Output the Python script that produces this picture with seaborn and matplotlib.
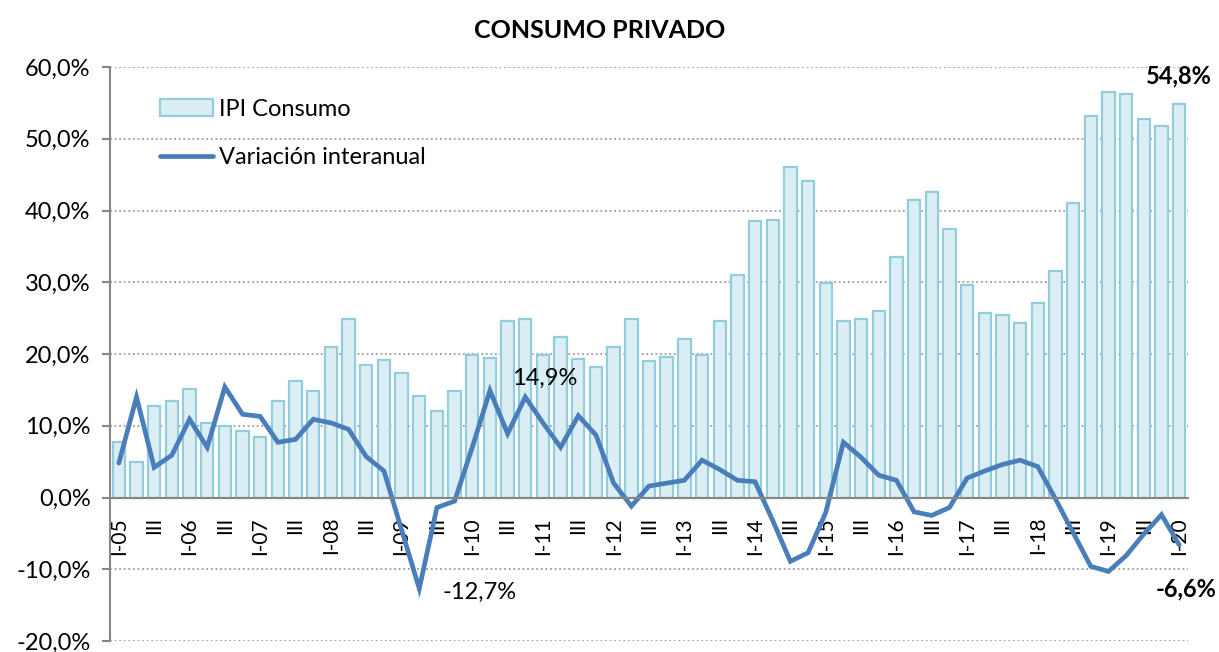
import matplotlib
matplotlib.use("Agg")
import matplotlib.pyplot as plt
import seaborn as sns
import pandas as pd
import numpy as np
from matplotlib.patches import Patch
from matplotlib.lines import Line2D
from matplotlib.ticker import FuncFormatter

sns.set_theme(style="white")
plt.rcParams['font.family'] = ['Lato', 'DejaVu Sans']

# ---- data ----
years = list(range(5, 21))
ipi_consumo = [7.8, 5.0, 12.8, 13.4, 15.1, 10.4, 10.0, 9.2, 8.4, 13.4, 16.2, 14.8,
               21.0, 24.9, 18.5, 19.1, 17.3, 14.2, 12.0, 14.8, 19.8, 19.5, 24.6, 24.9,
               19.8, 22.4, 19.3, 18.2, 21.0, 24.9, 19.0, 19.6, 22.1, 19.9, 24.6, 31.0,
               38.5, 38.7, 46.0, 44.1, 29.9, 24.6, 24.9, 26.0, 33.5, 41.5, 42.6, 37.4,
               29.6, 25.7, 25.4, 24.3, 27.1, 31.5, 41.0, 53.2, 56.5, 56.3, 52.7, 51.8,
               54.8]
variacion = [4.8, 14.0, 4.2, 5.9, 10.9, 7.0, 15.4, 11.6, 11.3, 7.7, 8.1, 10.9,
             10.4, 9.5, 5.7, 3.7, -4.5, -12.7, -1.4, -0.5, 7.0, 14.9, 8.9, 14.0,
             10.4, 7.0, 11.4, 8.7, 2.0, -1.2, 1.6, 2.0, 2.4, 5.2, 3.9, 2.4,
             2.2, -3.2, -8.9, -7.7, -2.1, 7.7, 5.6, 3.1, 2.4, -2.0, -2.5, -1.4,
             2.7, 3.7, 4.6, 5.2, 4.3, -0.2, -4.9, -9.6, -10.3, -8.1, -5.1, -2.4,
             -6.6]
quarters = []
for y in years:
    for q in ["I", "II", "III", "IV"]:
        quarters.append(f"{q}-{y:02d}")
quarters = quarters[:len(ipi_consumo)]
tick_labels = [(q if q.startswith("I-") else "III") for q in quarters]

df = pd.DataFrame({"idx": np.arange(len(ipi_consumo)), "quarter": quarters,
                   "ipi": ipi_consumo, "var": variacion})

BAR_FACE = "#DAEEF3"
BAR_EDGE = "#93CDDD"
LINE_C = "#4A7EBB"
GRID_C = "#8C8C8C"
FS_X = 15
FS = 17

fig = plt.figure(figsize=(12.19, 6.52), dpi=100)
ax = fig.add_axes([110/1219, 11/652, (1188-110)/1219, (641-67)/652])

sns.barplot(data=df, x="idx", y="ipi", order=list(df["idx"]), color=BAR_FACE,
            edgecolor=BAR_EDGE, linewidth=1.6, width=0.7, saturation=1, ax=ax)
sns.lineplot(data=df, x="idx", y="var", color=LINE_C, linewidth=3.4, ax=ax,
             solid_joinstyle="miter")

ax.set_xlim(-0.5, len(ipi_consumo) - 0.5)
ax.set_ylim(-20, 60)
ax.set_yticks(np.arange(-20, 61, 10))
ax.yaxis.set_major_formatter(FuncFormatter(lambda v, p: f"{v:.1f}%".replace(".", ",")))
ax.set_xlabel("")
ax.set_ylabel("")

for v in np.arange(-20, 61, 10):
    if v != 0:
        ax.axhline(v, color=GRID_C, linestyle=(0, (1.2, 1.8)), linewidth=1.1, zorder=0)

# spines
for s in ["top", "right"]:
    ax.spines[s].set_visible(False)
ax.spines["left"].set_color("#868686")
ax.spines["left"].set_linewidth(1.5)
ax.spines["bottom"].set_position(("data", 0))
ax.spines["bottom"].set_color("#868686")
ax.spines["bottom"].set_linewidth(1.5)
ax.spines["bottom"].set_zorder(5)

ax.set_xticks(df["idx"][::2])
ax.set_xticklabels(tick_labels[::2], rotation=90, fontsize=FS_X, color="black")
ax.set_xticks(np.arange(-0.5, len(ipi_consumo), 1.0), minor=True)
ax.tick_params(axis="x", which="major", length=0, pad=14)
ax.tick_params(axis="x", which="minor", length=6, width=1.5, color="#868686", direction="out")
ax.tick_params(axis="y", which="major", length=6, width=1.5, color="#868686",
               direction="out", labelsize=FS, pad=8, left=True, labelcolor="black")

for lab in ax.get_xticklabels():
    lab.set_va("top")

# annotations
ax.text(24.1, 16.6, "14,9%", fontsize=FS, ha="center", va="center", color="black")
ax.text(20.4, -13.2, "-12,7%", fontsize=FS, ha="center", va="center", color="black")
ax.text(60.0, 58.7, "54,8%", fontsize=FS, fontweight="bold", ha="center", va="center",
        color="black")
ax.text(60.4, -12.8, "-6,6%", fontsize=FS, fontweight="bold", ha="center", va="center",
        clip_on=False, color="black")

fig.text(600/1219, 1 - 30/652, "CONSUMO PRIVADO", fontsize=18, fontweight="bold",
         ha="center", va="center", color="black")

handles = [Patch(facecolor=BAR_FACE, edgecolor=BAR_EDGE, linewidth=1.6),
           Line2D([0], [0], color=LINE_C, linewidth=3.4, solid_capstyle="round")]
leg = fig.legend(handles, ["IPI Consumo", "Variación interanual"], loc="upper left",
                 bbox_to_anchor=(160/1219, 1 - 99/652), frameon=False, fontsize=FS,
                 handlelength=2.25, handleheight=0.7, handletextpad=0.25,
                 labelspacing=1.15, borderpad=0, borderaxespad=0)
for t in leg.get_texts():
    t.set_color("black")

fig.savefig("out.png", dpi=100)
